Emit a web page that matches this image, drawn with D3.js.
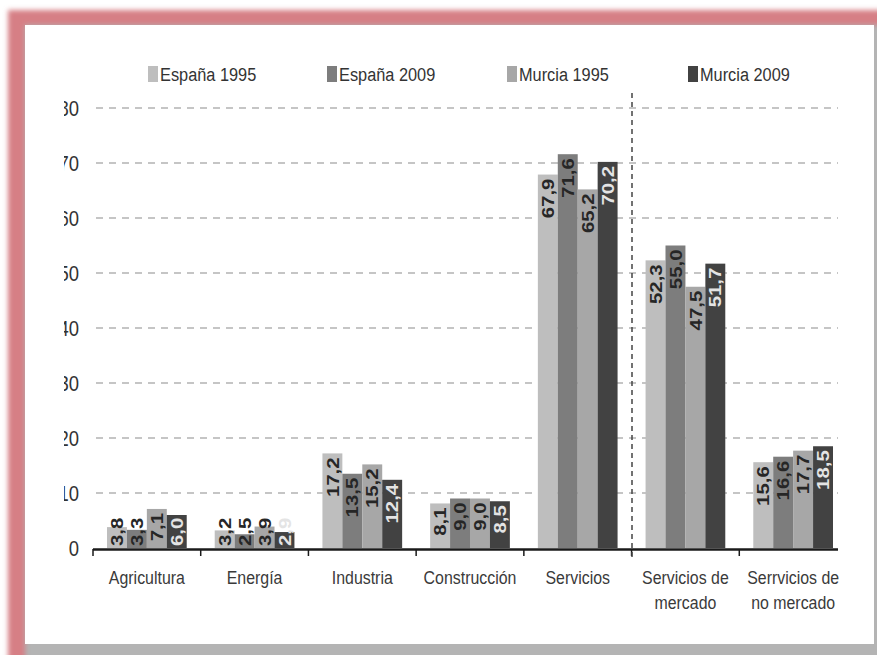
<!DOCTYPE html>
<html>
<head>
<meta charset="utf-8">
<script src="https://cdn.jsdelivr.net/npm/d3@7"></script>
<style>
  body { margin: 0; background: #fff; }
  svg { display: block; font-family: "Liberation Sans", Arial, sans-serif; }
</style>
</head>
<body>
<svg id="chart" width="877" height="655"></svg>
<script>
// categorias (con su salto de linea) y series
var categories = [["Agricultura"], ["Energía"], ["Industria"], ["Construcción"], ["Servicios"],
    ["Servicios de", "mercado"], ["Serrvicios de", "no mercado"]];
var seriesNames = ["España 1995", "España 2009", "Murcia 1995", "Murcia 2009"];
var espana1995 = [3.8, 3.2, 17.2, 8.1, 67.9, 52.3, 15.6];
var espana2009 = [3.3, 2.5, 13.5, 9.0, 71.6, 55.0, 16.6];
var murcia1995 = [7.1, 3.9, 15.2, 9.0, 65.2, 47.5, 17.7];
var murcia2009 = [6.0, 2.9, 12.4, 8.5, 70.2, 51.7, 18.5];
var yTicks = [0, 10, 20, 30, 40, 50, 60, 70, 80];

var seriesValues = [espana1995, espana2009, murcia1995, murcia2009];
var colors = ["#bebebe", "#7d7d7d", "#a7a7a7", "#424242"];
var labelColors = ["#262626", "#262626", "#262626", "#e4e4e4"];
var squeeze = 0.86;   // el original esta estrechado en horizontal
var labStretch = 1.2;

var svg = d3.select('#chart');

// marco con sombra rojiza
var defs = svg.append('defs');
defs.append('filter').attr('id', 'glow')
    .attr('x', '-10%').attr('y', '-10%').attr('width', '120%').attr('height', '120%')
    .append('feGaussianBlur').attr('stdDeviation', 2.5);
defs.append('clipPath').attr('id', 'ylabClip')
    .append('rect').attr('x', 64).attr('y', 0).attr('width', 40).attr('height', 655);

svg.append('rect').attr('x', 8).attr('y', 10).attr('width', 900).attr('height', 700)
    .attr('fill', '#d67f85').attr('filter', 'url(#glow)');
svg.append('rect').attr('x', 25).attr('y', 25).attr('width', 860).attr('height', 640)
    .attr('fill', '#b4b4b4').attr('filter', 'url(#glow)');
svg.append('rect').attr('x', 25).attr('y', 25).attr('width', 849).attr('height', 619)
    .attr('fill', '#ffffff');

var x0 = d3.scaleBand()
    .domain(d3.range(categories.length))
    .range([93, 847]);

var x1 = d3.scaleBand()
    .domain(d3.range(seriesNames.length))
    .range([14, x0.bandwidth() - 14]);

var y = d3.scaleLinear()
    .domain([0, 80])
    .range([548, 108]);

var axisEnd = 838;

// lineas de division
svg.append('g').selectAll('line').data(yTicks.filter(function (d) { return d > 0; }))
    .enter().append('line')
    .attr('x1', 96).attr('x2', axisEnd)
    .attr('y1', function (d) { return y(d); })
    .attr('y2', function (d) { return y(d); })
    .attr('stroke', '#b3b3b3')
    .attr('stroke-width', 1.3)
    .attr('stroke-dasharray', '7,6');

// etiquetas del eje y (recortadas por la izquierda como en la imagen)
svg.append('g').attr('clip-path', 'url(#ylabClip)')
    .selectAll('g').data(yTicks).enter().append('g')
    .attr('transform', function (d) { return 'translate(79,' + y(d) + ') scale(' + squeeze + ',1)'; })
    .append('text')
    .attr('dy', '0.35em')
    .attr('text-anchor', 'end')
    .attr('font-size', 21.5)
    .attr('fill', '#333')
    .text(function (d) { return d; });

// barras
var groups = svg.append('g').selectAll('g').data(categories).enter().append('g')
    .attr('transform', function (d, i) { return 'translate(' + x0(i) + ',0)'; });

groups.selectAll('rect')
    .data(function (d, i) { return seriesValues.map(function (s, k) { return {k: k, v: s[i]}; }); })
    .enter().append('rect')
    .attr('x', function (d) { return x1(d.k); })
    .attr('width', x1.bandwidth())
    .attr('y', function (d) { return y(d.v); })
    .attr('height', function (d) { return y(0) - y(d.v); })
    .attr('fill', function (d) { return colors[d.k]; });

groups.selectAll('text.val')
    .data(function (d, i) { return seriesValues.map(function (s, k) { return {k: k, v: s[i]}; }); })
    .enter().append('text')
    .attr('class', 'val')
    .attr('font-size', 17)
    .attr('font-weight', 'bold')
    .attr('fill', function (d) { return labelColors[d.k]; })
    .attr('text-anchor', 'end')
    .text(function (d) { return d3.format('.1f')(d.v).replace('.', ','); })
    .attr('transform', function (d) {
        var len = this.getComputedTextLength() * labStretch;
        var top = Math.min(y(d.v) + 4, y(0) - 2 - len);
        return 'translate(' + (x1(d.k) + x1.bandwidth() / 2) + ',' + top + ') rotate(-90) scale(' + labStretch + ',1)';
    })
    .attr('dy', '0.36em');

// eje x
var axisG = svg.append('g');
axisG.append('line')
    .attr('x1', 93).attr('x2', axisEnd)
    .attr('y1', y(0) + 1.5).attr('y2', y(0) + 1.5)
    .attr('stroke', '#1a1a1a').attr('stroke-width', 2.5);
axisG.selectAll('line.tick').data(d3.range(categories.length))
    .enter().append('line')
    .attr('class', 'tick')
    .attr('x1', function (d) { return x0(d); })
    .attr('x2', function (d) { return x0(d); })
    .attr('y1', y(0) + 1).attr('y2', y(0) + 8)
    .attr('stroke', '#1a1a1a').attr('stroke-width', 1.5);

axisG.selectAll('g.cat').data(categories).enter().append('g')
    .attr('class', 'cat')
    .attr('transform', function (d, i) {
        return 'translate(' + (x0(i) + x0.bandwidth() / 2) + ',584) scale(' + squeeze + ',1)';
    })
    .append('text')
    .attr('text-anchor', 'middle')
    .attr('font-size', 18.5)
    .attr('fill', '#3a3a3a')
    .each(function (d) {
        var t = d3.select(this);
        d.forEach(function (line, j) {
            t.append('tspan')
                .attr('x', 0)
                .attr('dy', j == 0 ? 0 : 25)
                .text(line);
        });
    });

// separador vertical punteado
svg.append('line')
    .attr('x1', 632).attr('x2', 632)
    .attr('y1', 93).attr('y2', 558)
    .attr('stroke', '#444')
    .attr('stroke-width', 1.5)
    .attr('stroke-dasharray', '5,4');

// leyenda
var legendX = [148, 327, 507, 688];
var legend = svg.append('g').selectAll('g').data(seriesNames).enter().append('g')
    .attr('transform', function (d, i) { return 'translate(' + legendX[i] + ',66)'; });
legend.append('rect')
    .attr('width', 10).attr('height', 16)
    .attr('fill', function (d, i) { return colors[i]; });
legend.append('g')
    .attr('transform', 'translate(12,8) scale(' + squeeze + ',1)')
    .append('text')
    .attr('dy', '0.35em')
    .attr('font-size', 19)
    .attr('fill', '#333')
    .text(function (d) { return d; });
</script>
</body>
</html>
